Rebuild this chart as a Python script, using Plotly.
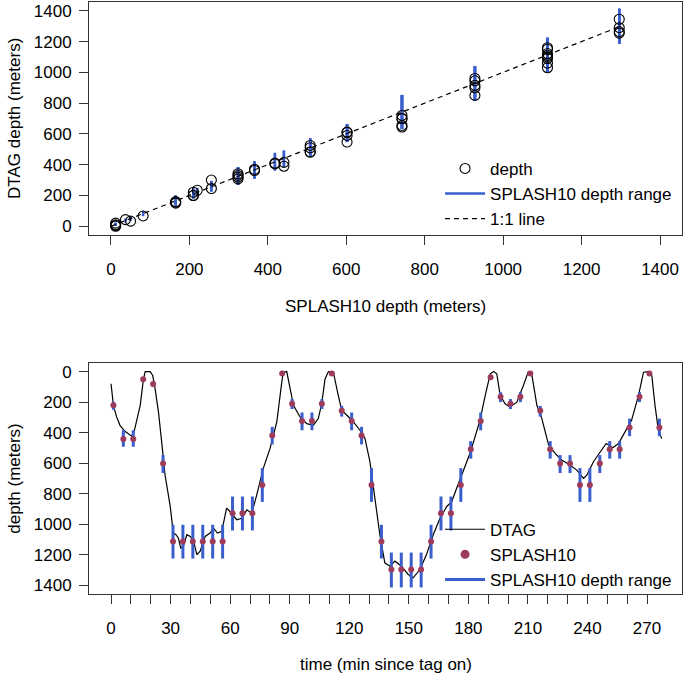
import plotly.graph_objects as go

# ---------------- data ----------------
# SPLASH10 sample times (min since tag on)
splash_time = [1.2, 6.2, 11.2, 16.2, 21.2, 26.2, 31.2, 36.2, 41.2, 46.2,
               51.2, 56.2, 61.2, 66.2, 71.2, 76.2, 81.2, 86.2, 91.2, 96.2,
               101.2, 106.2, 111.2, 116.2, 121.2, 126.2, 131.2, 136.2, 141.2, 146.2,
               151.2, 156.2, 161.2, 166.2, 171.2, 176.2, 181.2, 186.2, 191.2, 196.2,
               201.2, 206.2, 211.2, 216.2, 221.2, 226.2, 231.2, 236.2, 241.2, 246.2,
               251.2, 256.2, 261.2, 266.2, 271.2, 276.2]
# SPLASH10 reported depth (m)
splash_depth = [220, 441, 441, 50, 82, 602, 1113, 1113, 1113, 1113,
                1113, 1113, 928, 928, 928, 742, 418, 12, 210, 324,
                324, 210, 12, 256, 324, 418, 742, 1113, 1296, 1296,
                1296, 1296, 1113, 928, 928, 742, 508, 324, 37, 165,
                210, 165, 12, 256, 508, 602, 602, 742, 742, 602,
                508, 508, 366, 165, 12, 366]
# SPLASH10 depth range (m)
splash_lo = [198, 384, 384, 35, 65, 547, 1003, 1003, 1003, 1003,
             1003, 1003, 818, 818, 818, 632, 362, 4, 180, 268,
             268, 180, 4, 225, 268, 362, 632, 1003, 1185, 1185,
             1185, 1185, 1003, 818, 818, 632, 455, 268, 25, 135,
             180, 135, 4, 225, 455, 547, 547, 632, 632, 547,
             455, 455, 308, 135, 4, 308]
splash_hi = [250, 492, 492, 65, 100, 664, 1224, 1224, 1224, 1224,
             1224, 1224, 1040, 1040, 1040, 853, 477, 22, 245, 384,
             384, 245, 22, 295, 384, 477, 853, 1224, 1413, 1413,
             1413, 1413, 1224, 1040, 1040, 853, 570, 384, 50, 200,
             245, 200, 22, 295, 570, 664, 664, 853, 853, 664,
             570, 570, 423, 200, 22, 423]
# DTAG depth at the SPLASH10 sample times (m)
dtag_at_splash = [234, 390, 415, 33, 67, 610, 1060, 1150, 1090, 1160,
                  1100, 1030, 945, 960, 915, 700, 410, 20, 200, 308,
                  341, 200, 5, 245, 319, 405, 655, 1110, 1265, 1255,
                  1345, 1290, 1122, 900, 850, 720, 510, 330, 43, 160,
                  221, 150, 10, 300, 525, 590, 612, 699, 645, 547,
                  482, 482, 362, 156, 0, 370]
# DTAG continuous depth record
dtag_time = [0, 1.2, 2.8, 4.5, 7.0, 10.4, 11.6, 14.7, 16.3, 17.2, 19.7, 21.0, 22.2,
             23.9, 25.5, 27.2, 29.7, 31.4, 32.7, 33.9, 35.1, 36.4, 38.2, 39.9, 41.6,
             43.2, 44.9, 47.4, 49.9, 51.6, 53.6, 55.8, 58.2, 59.9, 63.3, 65.9, 68.4,
             70.9, 73.4, 76.7, 80.1, 83.5, 86.0, 86.8, 88.5, 90.2, 91.9, 95.2, 98.6,
             101.9, 104.4, 106.1, 107.8, 109.5, 112.0, 114.1, 116.2, 118.8, 122.1,
             125.4, 127.9, 130.4, 132.9, 135.4, 137.9, 140.5, 143.0, 146.3, 149.7,
             152.2, 155.6, 158.9, 162.3, 165.7, 169.1, 171.6, 174.1, 177.4, 181.1,
             184.1, 185.9, 188.5, 191.0, 192.7, 194.3, 196.0, 198.5, 201.0, 204.4,
             207.7, 210.2, 211.9, 214.5, 217.0, 220.4, 223.7, 227.0, 231.2, 234.6,
             238.0, 239.7, 243.0, 246.4, 249.4, 252.7, 255.6, 258.9, 262.2, 265.7,
             268.2, 270.7, 272.4, 274.0, 275.7, 277.4]
dtag_depth = [80, 221, 297, 352, 391, 423, 395, 221, 52, 0, 0, 26, 113,
              265, 460, 677, 872, 1057, 1068, 1089, 1155, 1144, 1068, 1079, 1111,
              1198, 1176, 1079, 1057, 1025, 1057, 1046, 894, 916, 970, 960, 905,
              927, 807, 634, 503, 330, 69, 4, 0, 113, 221, 297, 341,
              352, 308, 211, 48, 0, 4, 135, 254, 286, 330,
              384, 438, 590, 829, 1068, 1252, 1274, 1241, 1274, 1328,
              1350, 1296, 1198, 1068, 960, 883, 851, 764, 655, 525,
              395, 315, 156, 15, 0, 15, 156, 211, 232, 200,
              91, 0, 15, 221, 308, 480, 536, 579, 612, 645,
              699, 677, 590, 525, 471, 499, 471, 395, 319, 156,
              4, 0, 26, 221, 384, 439]
one_to_one = [0, 1300]

depth_ticks = [0, 200, 400, 600, 800, 1000, 1200, 1400]
time_ticks = [0, 10, 20, 30, 40, 50, 60, 70, 80, 90, 100, 110, 120, 130, 140,
              150, 160, 170, 180, 190, 200, 210, 220, 230, 240, 250, 260, 270]
time_labels = [str(t) if t % 30 == 0 else "" for t in time_ticks]

# ---------------- styling ----------------
FONT = "Liberation Sans, Arial, Helvetica, sans-serif"
FS = 17
BLUE = "#3A5FCD"
DOT = "#9E3B5B"
AX = "#333333"


def segs(xs, lo, hi):
    x, y = [], []
    for a, l, h in zip(xs, lo, hi):
        x += [a, a, None]
        y += [l, h, None]
    return x, y


fig = go.Figure()

# ---- top panel ----
bx, by = segs(splash_depth, splash_lo, splash_hi)
fig.add_trace(go.Scatter(x=bx, y=by, mode="lines", line=dict(color=BLUE, width=2.5),
                         name="SPLASH10 depth range", legend="legend", legendrank=2,
                         xaxis="x", yaxis="y"))
fig.add_trace(go.Scatter(x=one_to_one, y=one_to_one, mode="lines",
                         line=dict(color="black", width=1.2, dash="5px,4px"),
                         name="1:1 line", legend="legend", legendrank=3,
                         xaxis="x", yaxis="y"))
fig.add_trace(go.Scatter(x=splash_depth, y=dtag_at_splash, mode="markers",
                         marker=dict(symbol="circle-open", size=10, color="black",
                                     line=dict(width=1.1, color="black")),
                         name="depth", legend="legend", legendrank=1,
                         xaxis="x", yaxis="y"))

# ---- bottom panel ----
fig.add_trace(go.Scatter(x=dtag_time, y=dtag_depth, mode="lines",
                         line=dict(color="black", width=1.2),
                         name="DTAG", legend="legend2", legendrank=1,
                         xaxis="x2", yaxis="y2"))
tx, ty = segs(splash_time, splash_lo, splash_hi)
fig.add_trace(go.Scatter(x=tx, y=ty, mode="lines", line=dict(color=BLUE, width=3),
                         name="SPLASH10 depth range", legend="legend2", legendrank=3,
                         xaxis="x2", yaxis="y2"))
fig.add_trace(go.Scatter(x=splash_time, y=splash_depth, mode="markers",
                         marker=dict(symbol="circle", size=6, color=DOT),
                         name="SPLASH10", showlegend=False,
                         xaxis="x2", yaxis="y2"))
fig.add_trace(go.Scatter(x=[None], y=[None], mode="markers",
                         marker=dict(symbol="circle", size=9, color=DOT),
                         name="SPLASH10", legend="legend2", legendrank=2,
                         xaxis="x2", yaxis="y2"))

axis_common = dict(showline=True, mirror=True, linecolor=AX, linewidth=1,
                   ticks="outside", ticklen=9, tickwidth=1, tickcolor=AX,
                   showgrid=False, zeroline=False,
                   tickfont=dict(family=FONT, size=FS, color="black"))

fig.update_layout(
    width=685, height=680,
    margin=dict(l=89, r=3, t=2, b=86),
    paper_bgcolor="white", plot_bgcolor="white",
    font=dict(family=FONT, size=FS, color="black"),
    hovermode=False,
    xaxis=dict(domain=[0, 1], range=[-56, 1456], tickvals=depth_ticks,
               anchor="y", ticklabelstandoff=10, **axis_common),
    yaxis=dict(domain=[0.6064, 1], range=[-57, 1457], tickvals=depth_ticks,
               anchor="x", ticklabelstandoff=4, **axis_common),
    xaxis2=dict(domain=[0, 1], range=[-11.1, 287.6], tickvals=time_ticks,
                ticktext=time_labels, anchor="y2", ticklabelstandoff=10, **axis_common),
    yaxis2=dict(domain=[0, 0.3902], range=[1456, -56], tickvals=depth_ticks,
                anchor="x2", ticklabelstandoff=4, **axis_common),
    legend=dict(x=0.592, y=0.7485, xanchor="left", yanchor="top",
                bgcolor="rgba(0,0,0,0)", borderwidth=0, itemwidth=40,
                font=dict(family=FONT, size=FS), traceorder="normal"),
    legend2=dict(x=0.592, y=0.139, xanchor="left", yanchor="top",
                 bgcolor="rgba(0,0,0,0)", borderwidth=0, itemwidth=40,
                 font=dict(family=FONT, size=FS), traceorder="normal"),
    showlegend=True,
    annotations=[
        dict(text="DTAG depth (meters)", xref="paper", yref="paper",
             x=-0.126, y=0.803, textangle=-90, showarrow=False,
             xanchor="center", yanchor="middle", font=dict(size=FS)),
        dict(text="SPLASH10 depth (meters)", xref="paper", yref="paper",
             x=0.5, y=(594 - 307) / 592, showarrow=False,
             xanchor="center", yanchor="middle", font=dict(size=FS)),
        dict(text="depth (meters)", xref="paper", yref="paper",
             x=-0.126, y=(594 - 478.5) / 592, textangle=-90, showarrow=False,
             xanchor="center", yanchor="middle", font=dict(size=FS)),
        dict(text="time (min since tag on)", xref="paper", yref="paper",
             x=0.5, y=(594 - 664) / 592, showarrow=False,
             xanchor="center", yanchor="middle", font=dict(size=FS)),
    ],
)

fig.write_html("out.html", config={"displayModeBar": False, "staticPlot": True},
               post_script="document.body.style.margin='0';document.body.style.overflow='hidden';")
